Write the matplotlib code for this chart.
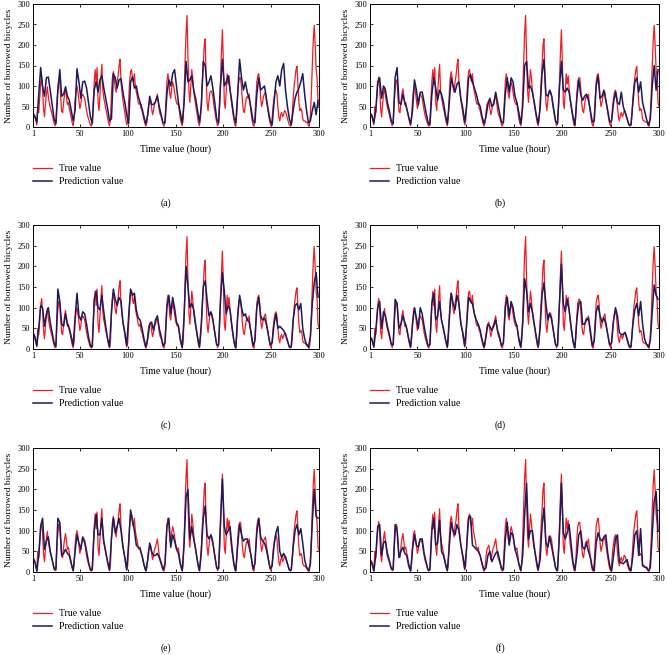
import numpy as np
import matplotlib
matplotlib.use("Agg")
import matplotlib.pyplot as plt

plt.rcParams['font.family'] = ['Liberation Serif', 'DejaVu Serif']

# ---------------- data ----------------
x_ticks = [1, 50, 100, 150, 200, 250, 300]
y_ticks = [0, 50, 100, 150, 200, 250, 300]
panel_labels = ["(a)", "(b)", "(c)", "(d)", "(e)", "(f)"]
series_names = ["True value", "Prediction value"]

# true value, hourly (hour 1..300)
true_value = [
    30, 28, 25, 15, 5, 50, 35, 70, 105, 122, 95, 45, 25, 55, 80, 98, 75, 60, 48, 40, 30, 20, 10, 3,
    15, 60, 95, 115, 110, 70, 38, 35, 60, 80, 93, 75, 55, 60, 45, 35, 22, 10, 3,
    20, 65, 90, 100, 85, 65, 45, 55, 75, 80, 75, 70, 55, 40, 28, 20, 12, 5, 2,
    15, 60, 110, 140, 105, 145, 60, 40, 80, 120, 153, 90, 70, 60, 45, 35, 22, 10, 3,
    20, 80, 120, 135, 120, 95, 85, 110, 125, 150, 165, 110, 85, 65, 50, 35, 18, 5,
    15, 60, 110, 135, 140, 120, 110, 130, 100, 85, 75, 60, 55, 60, 45, 40, 28, 18, 8, 2,
    10, 35, 55, 60, 65, 45, 30, 40, 55, 60, 70, 80, 60, 40, 30, 25, 15, 6, 2,
    15, 60, 110, 130, 115, 80, 70, 95, 110, 100, 85, 70, 60, 55, 58, 40, 20, 10, 3,
    20, 80, 160, 230, 272, 170, 90, 60, 100, 140, 120, 90, 70, 55, 40, 25, 10, 3,
    20, 60, 110, 150, 200, 215, 120, 60, 40, 65, 85, 88, 85, 75, 55, 40, 25, 12, 3,
    10, 50, 110, 180, 237, 160, 60, 45, 90, 130, 105, 125, 95, 70, 50, 35, 18, 5,
    2, 30, 80, 110, 120, 120, 95, 60, 40, 35, 55, 70, 75, 70, 80, 55, 35, 18, 5, 2,
    25, 70, 110, 125, 130, 110, 70, 50, 60, 75, 80, 85, 65, 50, 35, 20, 8, 2,
    20, 50, 70, 85, 90, 80, 50, 25, 15, 30, 35, 25, 30, 40, 38, 30, 20, 12, 5, 2,
    5, 30, 70, 100, 120, 140, 148, 100, 60, 40, 45, 40, 20, 15, 15, 12, 12, 10, 3,
    2, 30, 80, 150, 210, 248, 200, 140, 120, 60, 50,
]

# predictions, every 2 hours (hour 1, 3, 5, ..., 299)
pred_a = [
    35, 25, 12, 80, 145, 100, 75, 120, 122, 90, 55, 20,
    8, 90, 140, 75, 80, 98, 75, 65, 40, 15,
    40, 142, 110, 70, 110, 112, 95, 60, 25,
    8, 90, 110, 85, 115, 125, 95, 70, 45, 15,
    20, 130, 120, 95, 115, 118, 85, 60, 30,
    8, 110, 122, 95, 100, 75, 60, 45, 25, 8,
    30, 75, 55, 55, 62, 75, 50, 30, 10,
    10, 80, 115, 100, 130, 140, 100, 60, 35, 10,
    60, 160, 110, 115, 125, 90, 70, 40, 12,
    50, 160, 150, 100, 110, 125, 95, 60, 20,
    10, 100, 165, 100, 110, 125, 90, 60, 25,
    10, 80, 165, 120, 90, 110, 85, 70, 45, 15,
    10, 80, 120, 90, 95, 100, 70, 40, 15,
    5, 60, 110, 125, 100, 140, 155, 90, 50, 20,
    5, 40, 70, 85, 95, 110, 130, 80, 40, 10,
    15, 40, 60, 30, 65,
]
pred_b = [
    35, 28, 10, 40, 110, 120, 70, 100, 90, 60, 40, 15,
    8, 120, 145, 60, 55, 80, 60, 45, 25, 8,
    40, 115, 90, 55, 85, 85, 60, 35, 12,
    5, 80, 120, 95, 65, 90, 80, 60, 30, 8,
    60, 120, 100, 85, 105, 110, 70, 45, 12,
    50, 120, 128, 110, 95, 80, 60, 50, 25, 8,
    25, 55, 70, 50, 55, 85, 60, 35, 12,
    10, 80, 120, 85, 120, 110, 75, 60, 35, 8,
    50, 150, 160, 95, 100, 85, 60, 30, 8,
    45, 130, 165, 80, 75, 90, 75, 45, 15,
    8, 95, 160, 90, 85, 95, 85, 55, 25,
    5, 70, 115, 80, 65, 75, 80, 65, 40, 12,
    15, 100, 125, 70, 75, 90, 65, 40, 12,
    15, 60, 85, 60, 55, 85, 50, 35, 20, 5,
    5, 60, 110, 120, 85, 110, 60, 40, 20, 5,
    20, 100, 150, 90, 140,
]
pred_c = [
    40, 30, 8, 50, 105, 100, 55, 85, 100, 65, 40, 15,
    5, 145, 115, 60, 55, 85, 60, 50, 30, 8,
    75, 135, 80, 70, 90, 85, 60, 30, 8,
    5, 120, 140, 100, 95, 130, 90, 55, 25, 5,
    90, 145, 120, 105, 125, 115, 65, 40, 8,
    80, 145, 130, 135, 95, 75, 70, 50, 25, 5,
    25, 60, 65, 45, 70, 80, 50, 30, 8,
    15, 100, 130, 85, 125, 100, 65, 55, 25, 3,
    80, 200, 150, 100, 110, 95, 60, 30, 5,
    60, 150, 165, 120, 80, 90, 70, 40, 10,
    10, 120, 185, 140, 85, 105, 95, 55, 20,
    3, 80, 130, 100, 80, 85, 70, 65, 40, 8,
    20, 100, 125, 80, 70, 75, 60, 35, 10,
    15, 60, 85, 50, 55, 50, 45, 35, 20, 5,
    5, 70, 105, 110, 95, 110, 50, 25, 10, 5,
    30, 110, 160, 185, 125,
]
pred_d = [
    28, 22, 5, 45, 100, 115, 50, 90, 80, 55, 35, 12,
    10, 120, 110, 50, 60, 80, 65, 50, 25, 5,
    60, 100, 75, 50, 100, 85, 55, 30, 8,
    10, 110, 135, 70, 80, 115, 70, 50, 25, 5,
    70, 135, 110, 95, 130, 110, 60, 40, 8,
    60, 125, 115, 110, 85, 70, 60, 45, 22, 5,
    30, 60, 55, 45, 55, 70, 45, 30, 8,
    15, 100, 125, 80, 115, 100, 70, 55, 25, 5,
    60, 170, 140, 90, 110, 90, 60, 30, 5,
    50, 130, 160, 110, 70, 85, 70, 40, 10,
    8, 110, 205, 110, 90, 120, 95, 55, 20,
    3, 70, 110, 115, 60, 60, 70, 75, 45, 8,
    20, 90, 105, 80, 65, 75, 60, 35, 10,
    15, 70, 100, 80, 40, 35, 35, 40, 25, 8,
    5, 60, 95, 110, 80, 115, 60, 25, 12, 5,
    20, 90, 155, 130, 120,
]
pred_e = [
    35, 25, 2, 40, 110, 130, 55, 75, 85, 50, 30, 8,
    5, 130, 120, 40, 45, 55, 45, 40, 20, 3,
    50, 90, 70, 55, 85, 75, 50, 25, 5,
    5, 100, 140, 90, 90, 130, 75, 50, 25, 5,
    80, 130, 95, 110, 130, 100, 60, 35, 5,
    70, 150, 125, 100, 65, 60, 55, 40, 18, 3,
    30, 70, 50, 40, 40, 45, 35, 20, 5,
    20, 110, 130, 60, 90, 75, 55, 45, 20, 3,
    70, 180, 200, 80, 110, 80, 55, 25, 3,
    50, 130, 160, 90, 80, 90, 70, 40, 10,
    8, 120, 225, 110, 90, 100, 110, 60, 20,
    3, 65, 115, 90, 75, 80, 80, 60, 40, 8,
    20, 95, 130, 85, 75, 70, 55, 30, 8,
    15, 65, 95, 110, 50, 35, 45, 35, 20, 5,
    5, 60, 100, 115, 90, 105, 70, 30, 10, 3,
    20, 120, 200, 135, 130,
]
pred_f = [
    28, 20, 2, 40, 110, 115, 40, 70, 75, 40, 25, 8,
    5, 115, 100, 35, 50, 60, 45, 40, 15, 2,
    55, 90, 65, 60, 80, 80, 45, 25, 5,
    5, 100, 130, 65, 70, 125, 50, 40, 20, 3,
    60, 120, 100, 90, 115, 100, 65, 40, 8,
    60, 130, 135, 65, 60, 55, 50, 40, 20, 5,
    10, 40, 50, 25, 35, 45, 50, 30, 10,
    5, 80, 120, 65, 95, 90, 55, 40, 20, 3,
    40, 140, 215, 80, 100, 100, 60, 30, 5,
    30, 110, 155, 70, 60, 85, 60, 35, 10,
    3, 90, 215, 95, 80, 95, 115, 70, 25,
    5, 40, 90, 100, 60, 55, 70, 50, 35, 10,
    3, 70, 95, 80, 75, 85, 90, 45, 15,
    3, 40, 80, 90, 25, 22, 20, 25, 30, 10,
    3, 40, 90, 100, 40, 105, 15, 12, 10, 3,
    10, 90, 170, 195, 100,
]
predictions = [pred_a, pred_b, pred_c, pred_d, pred_e, pred_f]

# ---------------- layout ----------------
W, H = 667, 655
fig = plt.figure(figsize=(W / 100, H / 100), dpi=100)

red = '#ee1d23'
navy = '#1d1a5c'

col_lr = [(33, 319), (370, 659)]
row_tb = [(4, 127), (225, 349), (448, 572)]
col_centers = [166, 500]

x_true = np.arange(1, len(true_value) + 1)

for i, pred in enumerate(predictions):
    r, c = divmod(i, 2)
    l, rr = col_lr[c]
    t, b = row_tb[r]
    ax = fig.add_axes([l / W, 1 - b / H, (rr - l) / W, (b - t) / H])
    x_pred = np.arange(len(pred)) * 2 + 1
    ax.plot(x_true, true_value, color=red, lw=0.9, label=series_names[0])
    ax.plot(x_pred, pred, color=navy, lw=1.1, label=series_names[1])
    ax.set_xlim(1, 300)
    ax.set_ylim(0, 300)
    ax.set_xticks(x_ticks)
    ax.set_yticks(y_ticks)
    ax.tick_params(direction='in', top=True, right=True, length=2.5, width=0.6,
                   labelsize=6, pad=2)
    for s in ax.spines.values():
        s.set_linewidth(0.7)
    ax.set_ylabel("Number of borrowed bicycles", fontsize=6.8, labelpad=3)
    cx = (l + rr) / 2
    fig.text(cx / W, 1 - (b + 22) / H, "Time value (hour)", fontsize=7,
             ha='center', va='center')
    ax.legend(loc='upper left', bbox_to_anchor=(l / W, 1 - (b + 37) / H),
              bbox_transform=fig.transFigure, frameon=False, fontsize=7,
              handlelength=2.0, handletextpad=0.7, labelspacing=0.45,
              borderpad=0, borderaxespad=0)
    fig.text(col_centers[c] / W, 1 - (b + 76) / H, panel_labels[i], fontsize=7,
             ha='center', va='center')

fig.savefig("out.png", dpi=100)
